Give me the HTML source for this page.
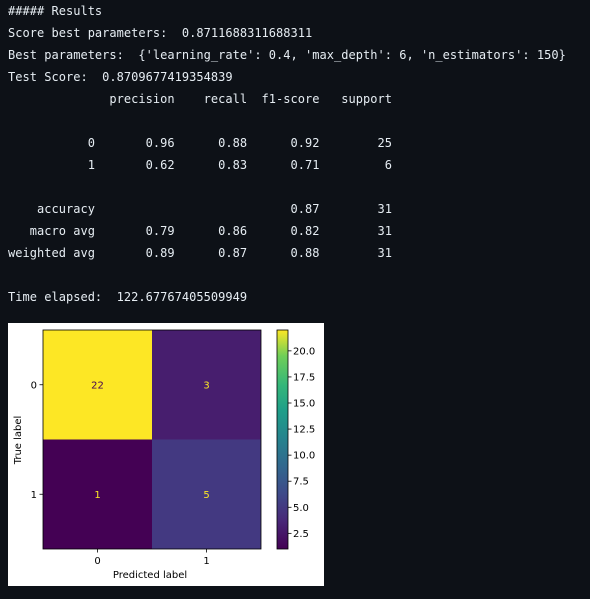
<!DOCTYPE html>
<html><head><meta charset="utf-8"><style>
html,body{margin:0;padding:0;background:#0d1117;width:590px;height:599px;overflow:hidden}
pre{position:absolute;left:8px;top:0;margin:0;font-family:"DejaVu Sans Mono","Liberation Mono",monospace;font-size:12px;letter-spacing:0.02px;line-height:22px;color:#e6edf3;white-space:pre}
#fig{position:absolute;left:8px;top:323px}
</style></head><body>
<pre>##### Results
Score best parameters:  0.8711688311688311
Best parameters:  {'learning_rate': 0.4, 'max_depth': 6, 'n_estimators': 150}
Test Score:  0.8709677419354839
              precision    recall  f1-score   support

           0       0.96      0.88      0.92        25
           1       0.62      0.83      0.71         6

    accuracy                           0.87        31
   macro avg       0.79      0.86      0.82        31
weighted avg       0.89      0.87      0.88        31

Time elapsed:  122.67767405509949</pre>
<svg id="fig" width="316" height="263" viewBox="8 323 316 263" xmlns="http://www.w3.org/2000/svg" font-family="DejaVu Sans, Liberation Sans, sans-serif" font-size="10">
<rect x="8" y="323" width="316" height="263" fill="#fff"/>
<g id="cells"></g>
<rect x="43" y="330" width="218" height="219" fill="none" stroke="#000" stroke-width="0.8"/>
<g id="ticks"></g>
<text x="150" y="578" text-anchor="middle">Predicted label</text>
<text transform="translate(21,440) rotate(-90)" text-anchor="middle">True label</text>
<defs><linearGradient id="vir" x1="0" y1="1" x2="0" y2="0">
<stop offset="0" stop-color="#440154"/><stop offset="0.13" stop-color="#482878"/><stop offset="0.25" stop-color="#3e4989"/><stop offset="0.38" stop-color="#31688e"/><stop offset="0.5" stop-color="#26828e"/><stop offset="0.63" stop-color="#1f9e89"/><stop offset="0.75" stop-color="#35b779"/><stop offset="0.88" stop-color="#6ece58"/><stop offset="1" stop-color="#fde725"/>
</linearGradient></defs>
<rect x="277" y="330" width="11" height="219" fill="url(#vir)" stroke="#000" stroke-width="0.8"/>
<g id="cbticks"></g>
</svg>
<script>
const classes = ["0","1"];
const matrix = [[22,3],[1,5]];
const cbTicks = [2.5,5.0,7.5,10.0,12.5,15.0,17.5,20.0];
const vmin = 1, vmax = 22;
const NS="http://www.w3.org/2000/svg";
const ax={x0:43,y0:330,w:218,h:219};
const cb={y0:330,h:219};
const stops=[[0,[68,1,84]],[0.13,[72,40,120]],[0.25,[62,73,137]],[0.38,[49,104,142]],[0.5,[38,130,142]],[0.63,[31,158,137]],[0.75,[53,183,121]],[0.88,[110,206,88]],[1,[253,231,37]]];
function vir(t){for(let i=1;i<stops.length;i++){if(t<=stops[i][0]){const a=stops[i-1],b=stops[i];const f=(t-a[0])/(b[0]-a[0]);return "rgb("+a[1].map((v,k)=>Math.round(v+(b[1][k]-v)*f)).join(",")+")";}}return "rgb(253,231,37)";}
function el(tag,attrs,parent){const e=document.createElementNS(NS,tag);for(const k in attrs)e.setAttribute(k,attrs[k]);parent.appendChild(e);return e;}
const n=classes.length, cw=ax.w/n, ch=ax.h/n;
const cells=document.getElementById('cells'), ticks=document.getElementById('ticks');
matrix.forEach((row,i)=>row.forEach((v,j)=>{
  const t=(v-vmin)/(vmax-vmin);
  const r=el('rect',{x:ax.x0+j*cw,y:ax.y0+i*ch,width:cw,height:ch,fill:vir(t)},cells);
  
  
  const tx=el('text',{x:ax.x0+(j+0.5)*cw,y:ax.y0+(i+0.5)*ch+3.5,'text-anchor':'middle',fill:t>0.5?'#440154':'#fde725'},cells);
  tx.textContent=v;
  
  
}));
classes.forEach((c,k)=>{
  const x=ax.x0+(k+0.5)*cw, y=ax.y0+(k+0.5)*ch;
  el('line',{x1:x,x2:x,y1:ax.y0+ax.h,y2:ax.y0+ax.h+3.5,stroke:'#000','stroke-width':0.8},ticks);
  const xt=el('text',{x:x,y:ax.y0+ax.h+15,'text-anchor':'middle'},ticks);
  xt.textContent=c;
  
  
  el('line',{x1:ax.x0-3.5,x2:ax.x0,y1:y,y2:y,stroke:'#000','stroke-width':0.8},ticks);
  const yt=el('text',{x:ax.x0-6,y:y+3.5,'text-anchor':'end'},ticks);
  yt.textContent=c;
  
  
});
const cbg=document.getElementById('cbticks');
cbTicks.forEach(v=>{
  const y=cb.y0+cb.h-(v-vmin)/(vmax-vmin)*cb.h;
  el('line',{x1:288,x2:291.5,y1:y,y2:y,stroke:'#000','stroke-width':0.8},cbg);
  const t=el('text',{x:293,y:y+3.5},cbg);
  t.textContent=v.toFixed(1);
  
  
});
</script>
</body></html>
